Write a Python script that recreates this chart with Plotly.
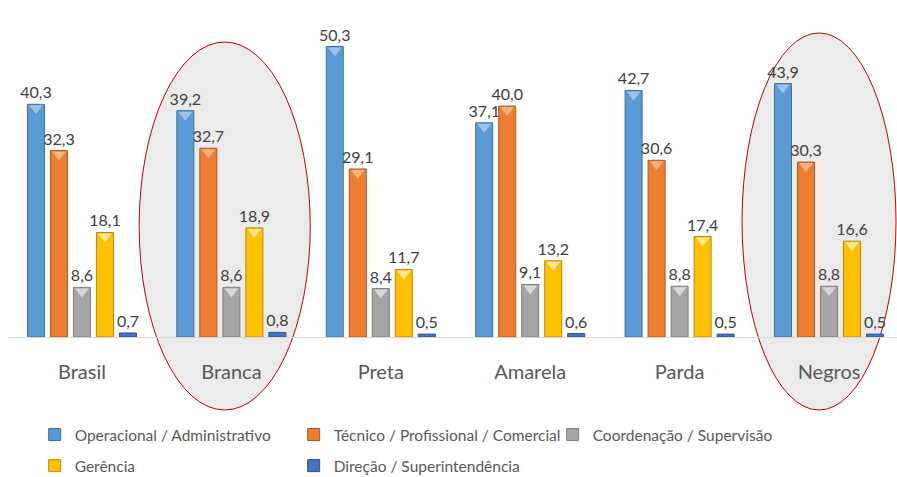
import plotly.graph_objects as go

categories = ["Brasil", "Branca", "Preta", "Amarela", "Parda", "Negros"]
series_names = [
    "Operacional / Administrativo",
    "Técnico / Profissional / Comercial",
    "Coordenação / Supervisão",
    "Gerência",
    "Direção / Superintendência",
]
operacional = [40.3, 39.2, 50.3, 37.1, 42.7, 43.9]
tecnico = [32.3, 32.7, 29.1, 40.0, 30.6, 30.3]
coordenacao = [8.6, 8.6, 8.4, 9.1, 8.8, 8.8]
gerencia = [18.1, 18.9, 11.7, 13.2, 17.4, 16.6]
direcao = [0.7, 0.8, 0.5, 0.6, 0.5, 0.5]

series_values = [operacional, tecnico, coordenacao, gerencia, direcao]
colors = ["#5B9BD5", "#ED7D31", "#A5A5A5", "#FFC000", "#4472C4"]
edge_colors = ["#41719C", "#AE5A21", "#7F7F7F", "#BC8C00", "#2F528F"]
tip_colors = ["#9DC3E6", "#F4B183", "#D9D9D9", "#FFE699", "#4472C4"]

FONT = "Lato"
TXT = "#595959"

fig = go.Figure()
for i, (name, vals) in enumerate(zip(series_names, series_values)):
    fig.add_trace(go.Bar(
        name=name,
        x=categories,
        y=vals,
        marker=dict(color=colors[i], line=dict(color=edge_colors[i], width=1)),
        text=[f"{v:.1f}".replace(".", ",") for v in vals],
        textposition="outside",
        constraintext="none",
        textfont=dict(family=FONT, size=16, color="#404040"),
        cliponaxis=False,
        offsetgroup=str(i),
        legend="legend" if i < 3 else "legend2",
    ))

# pyramid-like tips on top of bars
for i, vals in enumerate(series_values[:4]):
    fig.add_trace(go.Scatter(
        x=categories,
        y=[v - 0.7 for v in vals],
        mode="markers",
        marker=dict(symbol="triangle-down", size=12, color=tip_colors[i],
                    line=dict(width=0)),
        offsetgroup=str(i),
        showlegend=False,
        hoverinfo="skip",
    ))

# highlighted groups
for x0, x1, y0, y1 in [(0.1475, 0.3400, -0.2303, 0.9306),
                       (0.8257, 0.9989, -0.2303, 0.959)]:
    fig.add_shape(type="circle", xref="paper", yref="paper",
                  x0=x0, x1=x1, y0=y0, y1=y1,
                  fillcolor="#EBEBEB", line=dict(color="#C00000", width=1),
                  layer="below")

legend_font = dict(family=FONT, size=15.5, color=TXT)
fig.update_layout(
    width=897, height=477,
    margin=dict(l=8, r=0, t=20, b=140, autoexpand=False),
    paper_bgcolor="white", plot_bgcolor="rgba(0,0,0,0)",
    barmode="group", bargap=0.23, bargroupgap=0.26,
    scattermode="group", scattergap=0.23,
    font=dict(family=FONT, color=TXT),
    xaxis=dict(range=[-0.495, 5.455], showline=True, linecolor="#D9D9D9", linewidth=1,
               ticks="", tickfont=dict(family=FONT, size=20, color=TXT),
               ticklabelstandoff=17, showgrid=False, fixedrange=True),
    yaxis=dict(range=[0, 54.9], visible=False, showgrid=False, zeroline=False,
               fixedrange=True),
    legend=dict(orientation="h", x=0.03, y=-0.309, xanchor="left", yanchor="middle",
                entrywidth=214, entrywidthmode="pixels",
                font=legend_font, bgcolor="rgba(0,0,0,0)", itemwidth=30),
    legend2=dict(orientation="h", x=0.03, y=-0.407, xanchor="left", yanchor="middle",
                 entrywidth=214, entrywidthmode="pixels",
                 font=legend_font, bgcolor="rgba(0,0,0,0)", itemwidth=30),
    showlegend=True,
)

fig.write_html("out.html", config={"displayModeBar": False},
               post_script="document.body.style.margin='0';")
